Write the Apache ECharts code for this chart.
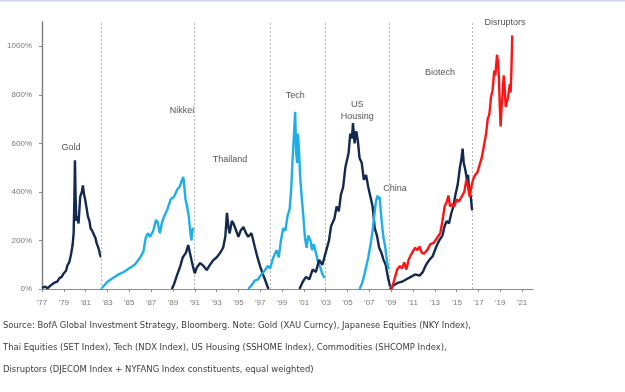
<!DOCTYPE html>
<html><head><meta charset="utf-8">
<script src="https://cdn.jsdelivr.net/npm/echarts@6/dist/echarts.min.js"></script>
<style>html,body{margin:0;padding:0;background:#fff;}#c{width:625px;height:392px;}</style>
</head><body><div id="c"></div>
<script>
const START_YEAR = 1977;
const END_YEAR = 2022;
const yTickStep = 200;
const yMax = 1100;

const gold = [[1977.0,5],[1977.3,10],[1977.5,3],[1977.8,15],[1978.1,25],[1978.4,30],[1978.6,45],[1978.8,50],[1979.0,65],[1979.2,75],[1979.35,100],[1979.5,110],[1979.65,140],[1979.8,180],[1979.9,230],[1979.97,380],[1980.02,530],[1980.08,380],[1980.15,280],[1980.25,300],[1980.35,270],[1980.5,380],[1980.65,400],[1980.75,427],[1980.85,390],[1980.95,370],[1981.1,330],[1981.2,300],[1981.35,280],[1981.45,250],[1981.6,240],[1981.75,225],[1981.9,210],[1982.0,190],[1982.1,195],[1982.2,165],[1982.3,145],[1982.4,130]];
const nikkei = [[1982.4,0],[1983.0,30],[1983.5,45],[1984.0,60],[1984.5,70],[1985.0,85],[1985.5,100],[1986.0,130],[1986.3,155],[1986.5,210],[1986.7,230],[1986.9,215],[1987.2,240],[1987.45,285],[1987.6,275],[1987.8,230],[1988.0,275],[1988.2,300],[1988.5,330],[1988.8,370],[1989.1,380],[1989.4,410],[1989.6,420],[1989.8,445],[1989.95,462],[1990.05,420],[1990.15,370],[1990.3,340],[1990.45,300],[1990.6,230],[1990.7,200],[1990.8,250],[1990.9,240]];
const thailand = [[1988.9,0],[1989.1,20],[1989.4,60],[1989.66,92],[1989.9,130],[1990.2,150],[1990.4,181],[1990.55,150],[1990.7,119],[1990.85,90],[1991.0,65],[1991.2,90],[1991.5,107],[1991.8,95],[1992.1,78],[1992.4,100],[1992.7,119],[1993.0,130],[1993.3,147],[1993.6,170],[1993.8,215],[1993.95,314],[1994.1,250],[1994.2,229],[1994.4,280],[1994.55,270],[1994.8,240],[1995.0,215],[1995.2,240],[1995.46,256],[1995.7,230],[1995.9,215],[1996.2,230],[1996.5,174],[1996.75,130],[1997.0,92],[1997.25,60],[1997.45,37],[1997.75,0]];
const tech = [[1995.9,0],[1996.2,15],[1996.5,35],[1996.8,40],[1997.1,60],[1997.4,75],[1997.7,95],[1997.9,85],[1998.2,130],[1998.5,160],[1998.7,130],[1998.9,200],[1999.1,250],[1999.3,240],[1999.5,300],[1999.7,330],[1999.85,420],[1999.95,520],[2000.05,600],[2000.2,730],[2000.3,560],[2000.38,520],[2000.45,640],[2000.55,580],[2000.65,470],[2000.8,380],[2000.95,300],[2001.1,210],[2001.25,170],[2001.4,220],[2001.6,200],[2001.75,160],[2001.9,185],[2002.1,150],[2002.3,110],[2002.5,90],[2002.7,60],[2002.9,45]];
const usHousing = [[2000.6,0],[2000.9,30],[2001.2,50],[2001.5,40],[2001.8,80],[2002.1,70],[2002.4,120],[2002.7,100],[2003.0,150],[2003.3,200],[2003.5,260],[2003.8,290],[2004.0,340],[2004.2,320],[2004.4,390],[2004.6,420],[2004.8,500],[2004.95,530],[2005.1,560],[2005.25,640],[2005.4,620],[2005.5,684],[2005.65,600],[2005.8,650],[2005.95,610],[2006.1,540],[2006.3,520],[2006.5,450],[2006.7,470],[2006.9,420],[2007.1,380],[2007.3,340],[2007.5,250],[2007.7,220],[2007.9,170],[2008.1,150],[2008.3,120],[2008.5,100],[2008.7,50],[2008.9,10]];
const china = [[2006.1,0],[2006.3,20],[2006.5,50],[2006.7,90],[2006.9,130],[2007.1,180],[2007.3,240],[2007.45,300],[2007.6,360],[2007.75,385],[2007.85,370],[2007.95,380],[2008.05,320],[2008.15,270],[2008.3,210],[2008.45,175],[2008.6,120],[2008.75,80]];
const biotech = [[2008.9,0],[2009.2,15],[2009.6,25],[2010.0,30],[2010.4,40],[2010.8,50],[2011.2,60],[2011.6,55],[2011.9,70],[2012.2,100],[2012.5,120],[2012.8,135],[2013.1,170],[2013.4,200],[2013.7,220],[2013.9,260],[2014.1,280],[2014.3,270],[2014.5,310],[2014.7,340],[2014.9,390],[2015.1,430],[2015.3,500],[2015.45,540],[2015.55,578],[2015.65,520],[2015.8,490],[2015.95,450],[2016.05,470],[2016.15,400],[2016.3,380],[2016.4,330],[2016.47,325]];
const disruptors = [[2009.05,0],[2009.3,40],[2009.55,80],[2009.8,95],[2010.0,85],[2010.2,110],[2010.4,80],[2010.6,120],[2010.8,140],[2011.0,155],[2011.2,170],[2011.4,160],[2011.6,175],[2011.8,150],[2012.0,145],[2012.3,160],[2012.6,185],[2012.9,190],[2013.2,210],[2013.5,230],[2013.7,280],[2013.9,340],[2014.1,360],[2014.25,385],[2014.4,340],[2014.6,350],[2014.8,340],[2015.0,370],[2015.2,360],[2015.45,380],[2015.7,400],[2015.9,450],[2016.05,420],[2016.2,380],[2016.35,420],[2016.5,450],[2016.7,470],[2016.9,480],[2017.1,510],[2017.3,540],[2017.5,590],[2017.7,640],[2017.85,700],[2018.0,720],[2018.15,790],[2018.3,820],[2018.45,900],[2018.55,880],[2018.7,965],[2018.8,930],[2018.88,870],[2018.95,760],[2019.03,670],[2019.12,750],[2019.22,810],[2019.32,880],[2019.4,830],[2019.5,750],[2019.6,770],[2019.72,790],[2019.8,820],[2019.88,845],[2019.95,810],[2020.02,900],[2020.1,1045]];

const dividerYears = [1982.4, 1990.95, 1997.9, 2003.0, 2008.83, 2016.47];
const annotations = [
  ['Gold', 1979.66, 582],
  ['Nikkei', 1989.82, 736],
  ['Thailand', 1994.24, 533],
  ['Tech', 2000.2, 797],
  ['US\nHousing', 2005.9, 736],
  ['China', 2009.35, 414],
  ['Biotech', 2013.47, 891],
  ['Disruptors', 2019.43, 1099]
];
const sourceLines = [
  'Source: BofA Global Investment Strategy, Bloomberg. Note: Gold (XAU Curncy), Japanese Equities (NKY Index),',
  'Thai Equities (SET Index), Tech (NDX Index), US Housing (SSHOME Index), Commodities (SHCOMP Index),',
  'Disruptors (DJECOM Index + NYFANG Index constituents, equal weighted)'
];

const NAVY = '#13294f', BLUE = '#1eaeea', RED = '#ff1414';
const seriesDefs = [
  ['Gold', gold, NAVY], ['Nikkei', nikkei, BLUE], ['Thailand', thailand, NAVY],
  ['Tech', tech, BLUE], ['US Housing', usHousing, NAVY], ['China', china, BLUE],
  ['Biotech', biotech, NAVY], ['Disruptors', disruptors, RED]
];
const toX = p => [p[0] - START_YEAR, p[1]];

const chart = echarts.init(document.getElementById('c'), null, {renderer: 'canvas'});
const series = seriesDefs.map((d, i) => ({
  name: d[0], type: 'line', data: d[1].map(toX), showSymbol: false, symbol: 'none',
  lineStyle: {color: d[2], width: 2.4}, itemStyle: {color: d[2]}, z: 3 + i,
  markLine: i === 0 ? {
    silent: true, symbol: ['none', 'none'], label: {show: false},
    lineStyle: {color: '#b8b8b8', type: [2, 2], width: 1},
    data: dividerYears.map(y => ({xAxis: y - START_YEAR}))
  } : undefined
}));

chart.setOption({
  animation: false,
  grid: {left: 42, right: 92, top: 22, bottom: 103},
  xAxis: {
    type: 'value', min: 0, max: END_YEAR - START_YEAR, interval: 2,
    splitLine: {show: false},
    axisLine: {lineStyle: {color: '#8c8c8c', width: 1.2}},
    axisTick: {show: true, length: 3, lineStyle: {color: '#8c8c8c'}},
    axisLabel: {color: '#7a7a7a', fontSize: 8, fontFamily: 'Liberation Sans', margin: 10, showMaxLabel: false,
      formatter: v => "'" + String((START_YEAR + v) % 100).padStart(2, '0')}
  },
  yAxis: {
    type: 'value', min: 0, max: yMax, interval: yTickStep,
    splitLine: {show: false},
    axisLine: {show: true, lineStyle: {color: '#7c7c7c', width: 1.4}},
    axisTick: {show: true, length: 3, lineStyle: {color: '#8c8c8c'}},
    axisLabel: {color: '#7a7a7a', fontSize: 8, fontFamily: 'Liberation Sans', margin: 10, showMaxLabel: false,
      formatter: v => v + '%'}
  },
  series: series
});

const graphics = [{type: 'rect', shape: {x: 0, y: 0, width: 625, height: 1.5}, style: {fill: '#cfd5e4'}, silent: true}];
annotations.forEach(a => {
  const p = chart.convertToPixel({gridIndex: 0}, [a[1] - START_YEAR, a[2]]);
  graphics.push({type: 'text', x: p[0], y: p[1], silent: true,
    style: {text: a[0], fill: '#555555', font: '9px "Liberation Sans", Arial, sans-serif', align: 'center', verticalAlign: 'middle', lineHeight: 12}});
});
sourceLines.forEach((t, i) => {
  graphics.push({type: 'text', x: 3, y: 326 + i * 22, silent: true,
    style: {text: t, fill: '#3c3c3c', font: '9.4px "Liberation Sans Narrow", "DejaVu Sans Condensed", sans-serif', align: 'left', verticalAlign: 'middle'}});
});
chart.setOption({graphic: graphics});
</script></body></html>
